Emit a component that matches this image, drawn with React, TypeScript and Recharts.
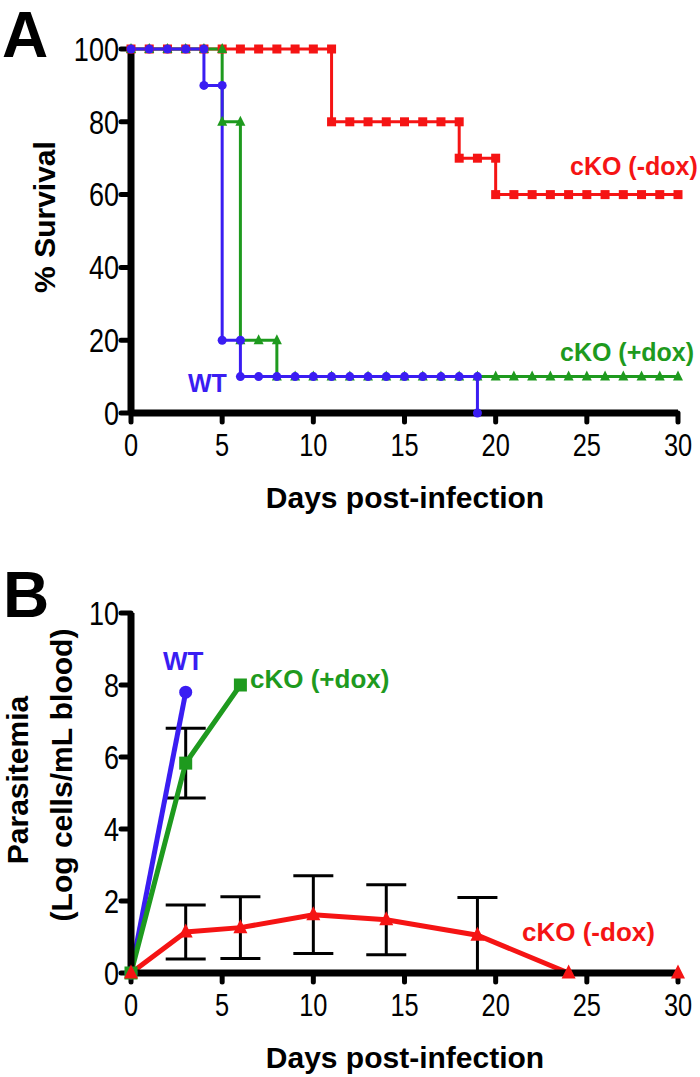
import React from 'react';
import { LineChart, Line, XAxis, YAxis, ErrorBar } from 'recharts';

const BLUE = '#3a1df2';
const GREEN = '#1e9a1e';
const RED = '#f51414';

const LABEL_FONT = '"Liberation Sans", Arial, sans-serif';

// Panel A - survival steps, [day, % survival]
const wtSurvival = [
  [0, 100], [1, 100], [2, 100], [3, 100], [4, 100],
  [4, 90], [5, 90],
  [5, 20], [6, 20],
  [6, 10], [7, 10], [8, 10], [9, 10], [10, 10], [11, 10], [12, 10], [13, 10],
  [14, 10], [15, 10], [16, 10], [17, 10], [18, 10], [19, 10],
  [19, 0],
];
const plusDoxSurvival = [
  [0, 100], [1, 100], [2, 100], [3, 100], [4, 100], [5, 100],
  [5, 80], [6, 80],
  [6, 20], [7, 20], [8, 20],
  [8, 10], [9, 10], [10, 10], [11, 10], [12, 10], [13, 10], [14, 10], [15, 10],
  [16, 10], [17, 10], [18, 10], [19, 10], [20, 10], [21, 10], [22, 10], [23, 10],
  [24, 10], [25, 10], [26, 10], [27, 10], [28, 10], [29, 10], [30, 10],
];
const minusDoxSurvival = [
  [0, 100], [1, 100], [2, 100], [3, 100], [4, 100], [5, 100], [6, 100],
  [7, 100], [8, 100], [9, 100], [10, 100], [11, 100],
  [11, 80], [12, 80], [13, 80], [14, 80], [15, 80], [16, 80], [17, 80], [18, 80],
  [18, 70], [19, 70], [20, 70],
  [20, 60], [21, 60], [22, 60], [23, 60], [24, 60], [25, 60], [26, 60], [27, 60],
  [28, 60], [29, 60], [30, 60],
];

// Panel B - parasitemia (log cells/mL blood)
const wtDays = [0, 3];
const wtMean = [0, 7.8];
const plusDoxDays = [0, 3, 6];
const plusDoxMean = [0, 5.83, 8.0];
const plusDoxSd = [null, 0.97, null];
const minusDoxDays = [0, 3, 6, 10, 14, 19, 24, 30];
const minusDoxMean = [0, 1.14, 1.26, 1.62, 1.48, 1.05, 0, 0];
const minusDoxSd = [null, 0.75, 0.86, 1.08, 0.97, 1.05, null, null];

const dayTicks = [0, 5, 10, 15, 20, 25, 30];
const survivalTicks = [0, 20, 40, 60, 80, 100];
const parasitemiaTicks = [0, 2, 4, 6, 8, 10];

const toRows = (pairs: number[][]) => pairs.map(([day, val]) => ({ day, val }));
const zipRows = (days: number[], vals: number[], sds?: (number | null)[]) =>
  days.map((day, i) => ({ day, val: vals[i], sd: sds ? sds[i] : null }));
const withSd = (rows: { day: number; val: number; sd: number | null }[]) => rows.filter((r) => r.sd != null);

const circleDot = (r: number, color: string) => (p: any) =>
  <circle key={`c-${p.index}`} cx={p.cx} cy={p.cy} r={r} fill={color} />;
const squareDot = (s: number, color: string) => (p: any) =>
  <rect key={`s-${p.index}`} x={p.cx - s / 2} y={p.cy - s / 2} width={s} height={s} fill={color} />;
const triangleDot = (s: number, color: string) => (p: any) => (
  <polygon
    key={`t-${p.index}`}
    points={`${p.cx},${p.cy - s * 0.6} ${p.cx - s / 2},${p.cy + s * 0.4} ${p.cx + s / 2},${p.cy + s * 0.4}`}
    fill={color}
  />
);

// condensed tick labels (the figure uses a narrow sans)
const narrowTick = (fontSize: number, vertical: boolean) => (p: any) => (
  <g key={`tk-${p.index}`} transform={`translate(${p.x},${p.y}) scale(0.82,1)`}>
    <text
      x={0}
      y={0}
      dy={vertical ? '0.355em' : '0.71em'}
      textAnchor={vertical ? 'end' : 'middle'}
      fontSize={fontSize}
      fontFamily={LABEL_FONT}
      fill="#000"
    >
      {p.payload.value}
    </text>
  </g>
);

const axisLine = { stroke: '#000', strokeWidth: 7 };
const tickLine = { stroke: '#000', strokeWidth: 5, strokeLinecap: 'round' as const };

function SurvivalChart() {
  return (
    <LineChart width={700} height={530} margin={{ top: 49, right: 22, bottom: 0, left: 0 }}>
      <XAxis
        type="number"
        dataKey="day"
        domain={[0, 30]}
        ticks={dayTicks}
        interval={0}
        height={117}
        tickSize={9}
        tickMargin={12}
        axisLine={axisLine}
        tickLine={tickLine}
        tick={narrowTick(31, false)}
      />
      <YAxis
        type="number"
        domain={[0, 100]}
        ticks={survivalTicks}
        interval={0}
        width={131}
        tickSize={10}
        tickMargin={2}
        axisLine={axisLine}
        tickLine={tickLine}
        tick={narrowTick(33, true)}
      />
      <Line data={toRows(minusDoxSurvival)} dataKey="val" stroke={RED} strokeWidth={3} dot={squareDot(9, RED)} isAnimationActive={false} />
      <Line data={toRows(plusDoxSurvival)} dataKey="val" stroke={GREEN} strokeWidth={3} dot={triangleDot(10, GREEN)} isAnimationActive={false} />
      <Line data={toRows(wtSurvival)} dataKey="val" stroke={BLUE} strokeWidth={3} dot={circleDot(4.5, BLUE)} isAnimationActive={false} />

      <text x={2} y={57} fontSize={64} fontWeight="bold" fontFamily={LABEL_FONT} fill="#000">A</text>
      <text x={55} y={217} transform="rotate(-90 55 217)" textAnchor="middle" fontSize={30} fontWeight="bold" fontFamily={LABEL_FONT} fill="#000">% Survival</text>
      <text x={405} y={508} textAnchor="middle" fontSize={30} fontWeight="bold" fontFamily={LABEL_FONT} fill="#000">Days post-infection</text>
      <text x={570} y={175} fontSize={25} fontWeight="bold" fontFamily={LABEL_FONT} fill={RED}>cKO (-dox)</text>
      <text x={560} y={361} fontSize={25} fontWeight="bold" fontFamily={LABEL_FONT} fill={GREEN}>cKO (+dox)</text>
      <text x={188} y={392} fontSize={25} fontWeight="bold" fontFamily={LABEL_FONT} fill={BLUE}>WT</text>
    </LineChart>
  );
}

function ParasitemiaChart() {
  const wtRows = zipRows(wtDays, wtMean);
  const plusRows = zipRows(plusDoxDays, plusDoxMean, plusDoxSd);
  const minusRows = zipRows(minusDoxDays, minusDoxMean, minusDoxSd);
  return (
    <LineChart width={700} height={547} margin={{ top: 83, right: 22, bottom: 0, left: 0 }}>
      <XAxis
        type="number"
        dataKey="day"
        domain={[0, 30]}
        ticks={dayTicks}
        interval={0}
        height={104}
        tickSize={9}
        tickMargin={12}
        axisLine={axisLine}
        tickLine={tickLine}
        tick={narrowTick(31, false)}
      />
      <YAxis
        type="number"
        domain={[0, 10]}
        ticks={parasitemiaTicks}
        interval={0}
        width={131}
        tickSize={10}
        tickMargin={2}
        axisLine={axisLine}
        tickLine={tickLine}
        tick={narrowTick(33, true)}
      />
      {/* error bars only, drawn under the series */}
      <Line data={withSd(plusRows)} dataKey="val" stroke="none" dot={false} isAnimationActive={false}>
        <ErrorBar dataKey="sd" width={20} stroke="#000" strokeWidth={3} direction="y" />
      </Line>
      <Line data={withSd(minusRows)} dataKey="val" stroke="none" dot={false} isAnimationActive={false}>
        <ErrorBar dataKey="sd" width={20} stroke="#000" strokeWidth={3} direction="y" />
      </Line>
      <Line data={wtRows} dataKey="val" stroke={BLUE} strokeWidth={5} dot={circleDot(6.5, BLUE)} isAnimationActive={false} />
      <Line data={plusRows} dataKey="val" stroke={GREEN} strokeWidth={5} dot={squareDot(13, GREEN)} isAnimationActive={false} />
      <Line data={minusRows} dataKey="val" stroke={RED} strokeWidth={5} dot={triangleDot(14, RED)} isAnimationActive={false} />

      <text x={3} y={87} fontSize={64} fontWeight="bold" fontFamily={LABEL_FONT} fill="#000">B</text>
      <text x={28} y={250} transform="rotate(-90 28 250)" textAnchor="middle" fontSize={30} fontWeight="bold" fontFamily={LABEL_FONT} fill="#000">Parasitemia</text>
      <text x={72} y={245} transform="rotate(-90 72 245)" textAnchor="middle" fontSize={30} fontWeight="bold" fontFamily={LABEL_FONT} fill="#000">(Log cells/mL blood)</text>
      <text x={405} y={538} textAnchor="middle" fontSize={30} fontWeight="bold" fontFamily={LABEL_FONT} fill="#000">Days post-infection</text>
      <text x={163} y={140} fontSize={26} fontWeight="bold" fontFamily={LABEL_FONT} fill={BLUE}>WT</text>
      <text x={250} y={158} fontSize={26} fontWeight="bold" fontFamily={LABEL_FONT} fill={GREEN}>cKO (+dox)</text>
      <text x={522} y={411} fontSize={26} fontWeight="bold" fontFamily={LABEL_FONT} fill={RED}>cKO (-dox)</text>
    </LineChart>
  );
}

export default function App() {
  return (
    <div style={{ position: 'absolute', left: 0, top: 0, width: 700, height: 1077, background: '#fff' }}>
      <SurvivalChart />
      <div style={{ position: 'absolute', left: 0, top: 530 }}>
        <ParasitemiaChart />
      </div>
    </div>
  );
}
